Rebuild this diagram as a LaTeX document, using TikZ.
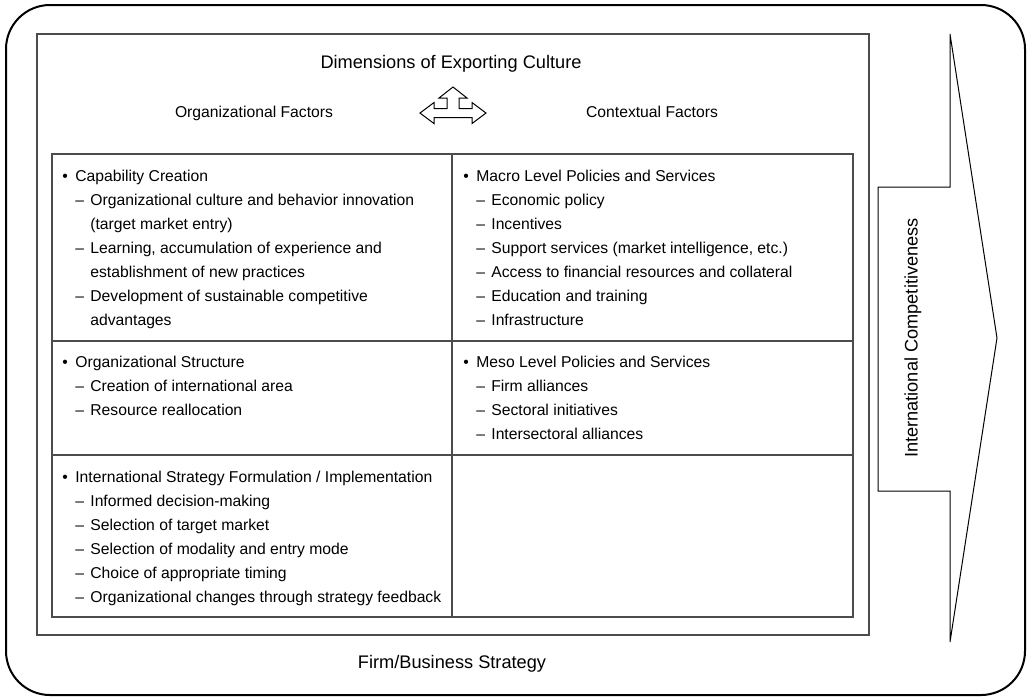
\documentclass[tikz,border=0pt]{standalone}
\usepackage{fontspec}
\setmainfont{Liberation Sans}
\usepackage{xcolor}
\usepackage{tikz}
\usetikzlibrary{calc}

\newcommand{\hd}[1]{\makebox[6.5pt][l]{\textbullet}#1}
\newcommand{\dl}[1]{\hspace*{6.5pt}\makebox[7.5pt][l]{--}#1}
\newcommand{\ct}[1]{\hspace*{14pt}#1}

\tikzset{
  grayline/.style={draw=black!70,line width=0.75pt},
  cellbox/.style={anchor=north west,inner sep=0pt,align=left,font=\fontsize{7.85}{12}\selectfont},
  titlebox/.style={anchor=base,inner sep=0pt,font=\fontsize{7.85}{12}\selectfont},
  bigtitle/.style={titlebox,font=\fontsize{9.1}{12}\selectfont}
}

\begin{document}
\begin{tikzpicture}[x=0.5pt,y=-0.5pt]
\useasboundingbox (0,0) rectangle (1029,698);
%% outer frame and inner frame
\draw [black,line width=1pt,rounded corners=22pt] (6,5) rectangle (1025,695);
\draw [grayline] (37,34) rectangle (869,635);
%% table
\draw [grayline] (52,154) rectangle (853,617);
\draw [grayline] (452,154) -- (452,617);
\foreach \y in {341,455}
    \draw [grayline] (52,\y) -- (853,\y);
%% big arrow
\draw [black,line width=0.5pt] (878,187) -- (950,187) -- (950,34) -- (997,338)
      -- (950,642) -- (950,491) -- (878,491) -- cycle;
%% three-way arrow
\draw [black,line width=0.5pt] (420,113) -- (434,102.5) -- (434,108.5) -- (447,108.5)
      -- (447,98) -- (439,98) -- (453,87) -- (467,98) -- (459,98) -- (459,108.5)
      -- (472,108.5) -- (472,102.5) -- (486,113) -- (472,123.5) -- (472,117.5)
      -- (434,117.5) -- (434,123.5) -- cycle;
%% titles
\node [bigtitle] (dimtitle) at (451,68.5) {Dimensions of Exporting Culture};
\node [titlebox] (orgfac) at (254,117.5) {Organizational Factors};
\node [titlebox] (ctxfac) at (652,117.5) {Contextual Factors};
\node [bigtitle] (firmstr) at (452,668.5) {Firm/Business Strategy};
\node [bigtitle,anchor=center,rotate=90] (intcomp) at (913,338) {International Competitiveness};
%% cells
\node [cellbox] (capcr) at (62,170) {\hd{Capability Creation}\\
  \dl{Organizational culture and behavior innovation}\\
  \ct{(target market entry)}\\
  \dl{Learning, accumulation of experience and}\\
  \ct{establishment of new practices}\\
  \dl{Development of sustainable competitive}\\
  \ct{advantages}};
\node [cellbox] (orgstr) at (62,356) {\hd{Organizational Structure}\\
  \dl{Creation of international area}\\
  \dl{Resource reallocation}};
\node [cellbox] (intstr) at (62,471) {\hd{International Strategy Formulation / Implementation}\\
  \dl{Informed decision-making}\\
  \dl{Selection of target market}\\
  \dl{Selection of modality and entry mode}\\
  \dl{Choice of appropriate timing}\\
  \dl{Organizational changes through strategy feedback}};
\node [cellbox] (macro) at (463,170) {\hd{Macro Level Policies and Services}\\
  \dl{Economic policy}\\
  \dl{Incentives}\\
  \dl{Support services (market intelligence, etc.)}\\
  \dl{Access to financial resources and collateral}\\
  \dl{Education and training}\\
  \dl{Infrastructure}};
\node [cellbox] (meso) at (463,356) {\hd{Meso Level Policies and Services}\\
  \dl{Firm alliances}\\
  \dl{Sectoral initiatives}\\
  \dl{Intersectoral alliances}};
\end{tikzpicture}
\end{document}
